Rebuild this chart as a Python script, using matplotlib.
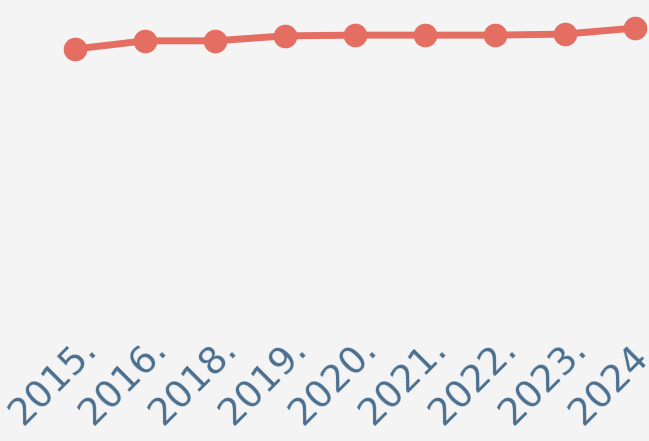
import matplotlib.pyplot as plt
from matplotlib.transforms import ScaledTranslation

years = ["2015.", "2016.", "2018.", "2019.", "2020.", "2021.", "2022.", "2023.", "2024."]
values = [86.2, 88.5, 88.5, 89.9, 90.1, 90.1, 90.1, 90.4, 92.1]

bg = "#f4f4f4"
line_color = "#e46e62"
label_color = "#4a6f8f"

fig = plt.figure(figsize=(6.49, 4.41), dpi=100, facecolor=bg)
ax = fig.add_axes([40 / 649, 1 - 355 / 441, 609 / 649, 355 / 441])
ax.set_facecolor(bg)

x = list(range(len(years)))
ax.plot(x, values, color=line_color, linewidth=5, marker="o", markersize=16,
        solid_capstyle="round", clip_on=False, zorder=3)

ax.set_xlim(-0.5, 8.2)
ax.set_ylim(0, 100)
ax.set_xticks(x)
ax.set_xticklabels(years, rotation=45, ha="right", va="top", rotation_mode="anchor",
                   fontsize=27, color=label_color, family="DejaVu Sans")
ax.tick_params(axis="x", length=0, pad=0)
# shift labels right and up so they end just past the tick, like the original
offset = ScaledTranslation(4 / 100, 24 / 100, fig.dpi_scale_trans)
for lab in ax.get_xticklabels():
    lab.set_transform(lab.get_transform() + offset)
ax.set_yticks([])
for s in ax.spines.values():
    s.set_visible(False)

fig.savefig("out.png", dpi=100, facecolor=bg)
